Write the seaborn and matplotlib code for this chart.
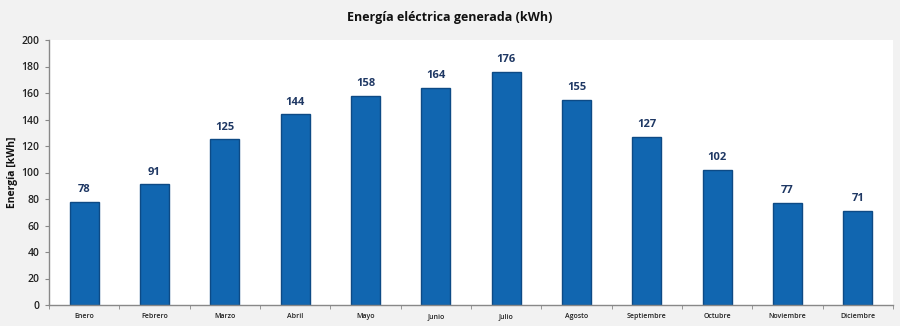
import matplotlib
matplotlib.use("Agg")
import matplotlib.pyplot as plt
import seaborn as sns
import pandas as pd
import numpy as np

months = ["Enero", "Febrero", "Marzo", "Abril", "Mayo", "Junio", "Julio",
          "Agosto", "Septiembre", "Octubre", "Noviembre", "Diciembre"]
energy = [78, 91, 125, 144, 158, 164, 176, 155, 127, 102, 77, 71]
yticks = [0, 20, 40, 60, 80, 100, 120, 140, 160, 180, 200]

sns.set_style("white")
plt.rcParams['font.family'] = ['Open Sans', 'DejaVu Sans']

df = pd.DataFrame({"Mes": months, "Energia": energy})

fig = plt.figure(figsize=(9, 3.26), dpi=100, facecolor="#f2f2f2")
ax = fig.add_axes([49/900, 21/326, 844/900, 265/326])
ax.set_facecolor("white")

sns.barplot(data=df, x="Mes", y="Energia", ax=ax, color="#1166b0",
            width=0.41, saturation=1, edgecolor="#0d4a85", linewidth=1)

for i, v in enumerate(energy):
    ax.text(i, v + 5, str(v), ha="center", va="bottom", fontsize=8,
            fontweight="bold", color="#1f3864")

ax.set_ylim(0, 200)
ax.set_xlim(-0.5, len(months) - 0.5)
ax.set_yticks(yticks)
ax.set_yticklabels([str(t) for t in yticks], fontsize=7.5, color="#222222",
                   fontweight="semibold")
ax.tick_params(axis="y", length=3, color="#888888", pad=4, direction="out", left=True)
ax.set_xticks(range(len(months)))
ax.set_xticklabels(months, fontsize=5, color="#222222", fontweight="semibold")
ax.tick_params(axis="x", which="major", length=0, pad=6)
ax.set_xticks(np.arange(-0.5, len(months), 1), minor=True)
ax.tick_params(axis="x", which="minor", length=3, color="#888888", direction="out", bottom=True)
ax.set_xlabel("")
ax.set_ylabel("Energía [kWh]", fontsize=7.5, fontweight="bold", color="#111111", labelpad=2)

for s in ["top", "right"]:
    ax.spines[s].set_visible(False)
for s in ["left", "bottom"]:
    ax.spines[s].set_color("#888888")
    ax.spines[s].set_linewidth(1)

fig.text(0.5, 1 - 17/326, "Energía eléctrica generada (kWh)", ha="center", va="center",
         fontsize=9, fontweight="bold", color="#111111")

fig.savefig("out.png", dpi=100, facecolor=fig.get_facecolor())
